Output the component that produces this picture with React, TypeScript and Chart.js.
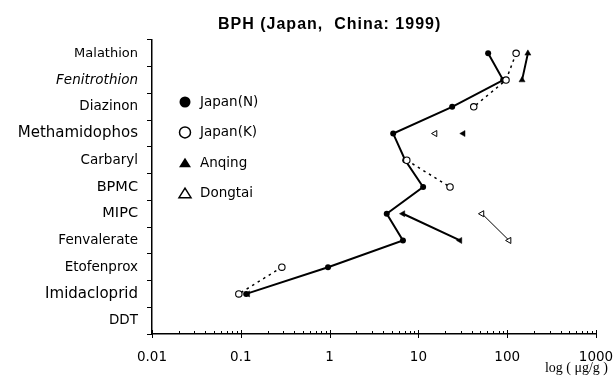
import React, { useEffect, useRef } from 'react';
import { Chart, registerables } from 'chart.js';

Chart.register(...registerables);

// ---- data ----
const categories = [
  'Malathion',
  'Fenitrothion',
  'Diazinon',
  'Methamidophos',
  'Carbaryl',
  'BPMC',
  'MIPC',
  'Fenvalerate',
  'Etofenprox',
  'Imidacloprid',
  'DDT',
];
const japanN = [61, 90, 24, 5.2, 7.1, 11.3, 4.4, 6.7, 0.96, 0.115, null];
const japanK = [126, 97, 42, null, 7.4, 22.7, null, null, 0.29, 0.095, null];
const anqing = [171, 147, null, 32, null, null, 6.7, 29.4, null, 0.12, null];
const dongtai = [null, null, null, 15.4, null, null, 52, 105, null, null, null];
const xTickValues = [0.01, 0.1, 1, 10, 100, 1000];
const xTickLabels = ['0.01', '0.1', '1', '10', '100', '1000'];
const seriesNames = ['Japan(N)', 'Japan(K)', 'Anqing', 'Dongtai'];
const titleText = 'BPH (Japan,  China: 1999)';
const xAxisTitle = 'log ( μg/g )';

// ---- styles ----
const italicCategories = ['Fenitrothion'];
const labelSizes: Record<string, number> = {
  Malathion: 13,
  Methamidophos: 15,
  BPMC: 14.5,
  MIPC: 14.5,
  Imidacloprid: 15,
};
const anqingRotation = [0, 0, 0, -90, 0, 0, -90, -90, 0, -90, 0];

const decorPlugin = {
  id: 'decor',
  afterDraw(chart: any) {
    const ctx = chart.ctx as CanvasRenderingContext2D;
    const xs = chart.scales.x;
    const axisY = xs.top;

    // log minor / major ticks pointing into plot
    ctx.save();
    ctx.strokeStyle = '#000';
    ctx.lineWidth = 1;
    for (let e = -2; e <= 3; e++) {
      for (let k = 1; k <= 9; k++) {
        const v = k * Math.pow(10, e);
        if (v > 1000 + 1e-9) break;
        const px = Math.round(xs.getPixelForValue(v)) + 0.5;
        ctx.beginPath();
        if (k === 1) {
          ctx.moveTo(px, axisY - 4);
          ctx.lineTo(px, axisY + 4);
        } else {
          ctx.moveTo(px, axisY - 3);
          ctx.lineTo(px, axisY);
        }
        ctx.stroke();
      }
    }
    ctx.restore();

    // title
    ctx.save();
    ctx.fillStyle = '#000';
    ctx.font = 'bold 16px "Liberation Sans", Arial, sans-serif';
    (ctx as any).letterSpacing = '1px';
    ctx.textAlign = 'left';
    ctx.textBaseline = 'middle';
    ctx.fillText(titleText, 218, 24.5);
    ctx.restore();

    // x axis title
    ctx.save();
    ctx.fillStyle = '#000';
    ctx.font = '14px "Liberation Serif", serif';
    ctx.textAlign = 'right';
    ctx.textBaseline = 'alphabetic';
    ctx.fillText(xAxisTitle, 608, 372);
    ctx.restore();

    // legend
    ctx.save();
    const lx = 185;
    const ly0 = 102;
    const step = 30.4;
    ctx.strokeStyle = '#000';
    ctx.fillStyle = '#000';
    ctx.lineWidth = 1.5;
    seriesNames.forEach((name, i) => {
      const y = ly0 + i * step;
      ctx.beginPath();
      if (i === 0 || i === 1) {
        ctx.arc(lx, y, 5.5, 0, Math.PI * 2);
      } else {
        ctx.moveTo(lx, y - 5);
        ctx.lineTo(lx + 6, y + 4.5);
        ctx.lineTo(lx - 6, y + 4.5);
        ctx.closePath();
      }
      if (i === 0 || i === 2) {
        ctx.fill();
      } else {
        ctx.fillStyle = '#fff';
        ctx.fill();
        ctx.fillStyle = '#000';
        ctx.stroke();
      }
      ctx.font = '13.5px "DejaVu Sans", sans-serif';
      ctx.textAlign = 'left';
      ctx.textBaseline = 'middle';
      ctx.fillText(name, 200, y + 0.5);
    });
    ctx.restore();
  },
};

export default function App() {
  const ref = useRef<HTMLCanvasElement>(null);

  useEffect(() => {
    if (!ref.current) return;
    const chart = new Chart(ref.current, {
      type: 'line',
      data: {
        labels: categories,
        datasets: [
          {
            label: seriesNames[0],
            data: japanN as any,
            borderColor: '#000',
            borderWidth: 2,
            backgroundColor: '#000',
            pointStyle: 'circle',
            pointRadius: 3,
            pointBorderWidth: 0,
            pointBackgroundColor: '#000',
            spanGaps: false,
            order: 4,
          },
          {
            label: seriesNames[1],
            data: japanK as any,
            borderColor: '#000',
            borderWidth: 1.5,
            borderDash: [2.5, 4],
            pointStyle: 'circle',
            pointRadius: 3.2,
            pointBorderWidth: 1.1,
            pointBorderColor: '#000',
            pointBackgroundColor: '#fff',
            spanGaps: false,
            order: 1,
          },
          {
            label: seriesNames[2],
            data: anqing as any,
            borderColor: '#000',
            borderWidth: 2,
            pointStyle: 'triangle',
            pointRadius: 3.5,
            pointRotation: anqingRotation,
            pointBorderWidth: 0.5,
            pointBorderColor: '#000',
            pointBackgroundColor: '#000',
            spanGaps: false,
            order: 2,
          },
          {
            label: seriesNames[3],
            data: dongtai as any,
            borderColor: '#000',
            borderWidth: 1,
            pointStyle: 'triangle',
            pointRadius: 3.5,
            pointRotation: -90,
            pointBorderWidth: 1,
            pointBorderColor: '#000',
            pointBackgroundColor: '#fff',
            spanGaps: false,
            order: 3,
          },
        ],
      },
      options: {
        animation: false,
        responsive: false,
        indexAxis: 'y',
        layout: { padding: { top: 40, right: 18, left: 0, bottom: 0 } },
        plugins: {
          legend: { display: false },
          tooltip: { enabled: false },
          title: { display: false },
        },
        scales: {
          x: {
            type: 'logarithmic',
            position: 'bottom',
            min: 0.01,
            max: 1000,
            afterBuildTicks: (scale: any) => {
              scale.ticks = xTickValues.map((v) => ({ value: v }));
            },
            afterFit: (scale: any) => {
              scale.height = 42;
              scale.paddingLeft = 0;
              scale.paddingRight = 0;
            },
            grid: { display: false, drawTicks: false, drawOnChartArea: false },
            border: { display: true, color: '#000', width: 1.5 },
            ticks: {
              autoSkip: false,
              maxRotation: 0,
              minRotation: 0,
              padding: 15,
              color: '#000',
              font: { family: '"DejaVu Sans", sans-serif', size: 13.5 },
              callback: (value: any) => {
                const i = xTickValues.findIndex((v) => Math.abs(v - Number(value)) < 1e-9 * Math.max(1, v));
                return i >= 0 ? xTickLabels[i] : '';
              },
            },
          },
          y: {
            type: 'category',
            position: 'left',
            offset: true,
            afterFit: (scale: any) => {
              scale.width = 152;
            },
            grid: {
              offset: true,
              drawOnChartArea: false,
              drawTicks: true,
              tickLength: 5,
              color: '#000',
              lineWidth: 1,
            },
            border: { display: true, color: '#000', width: 1.5 },
            ticks: {
              padding: 9,
              color: '#000',
              autoSkip: false,
              font: (c: any) => {
                const label = categories[c.index];
                return {
                  family: '"DejaVu Sans", sans-serif',
                  size: labelSizes[label] ?? 13.5,
                  style: italicCategories.includes(label) ? 'italic' : 'normal',
                };
              },
            },
          },
        },
      },
      plugins: [decorPlugin],
    });
    return () => chart.destroy();
  }, []);

  return (
    <div
      style={{
        position: 'fixed',
        left: 0,
        top: 0,
        width: 614,
        height: 376,
        background: '#fff',
      }}
    >
      <canvas ref={ref} width={614} height={376} style={{ display: 'block' }} />
    </div>
  );
}
